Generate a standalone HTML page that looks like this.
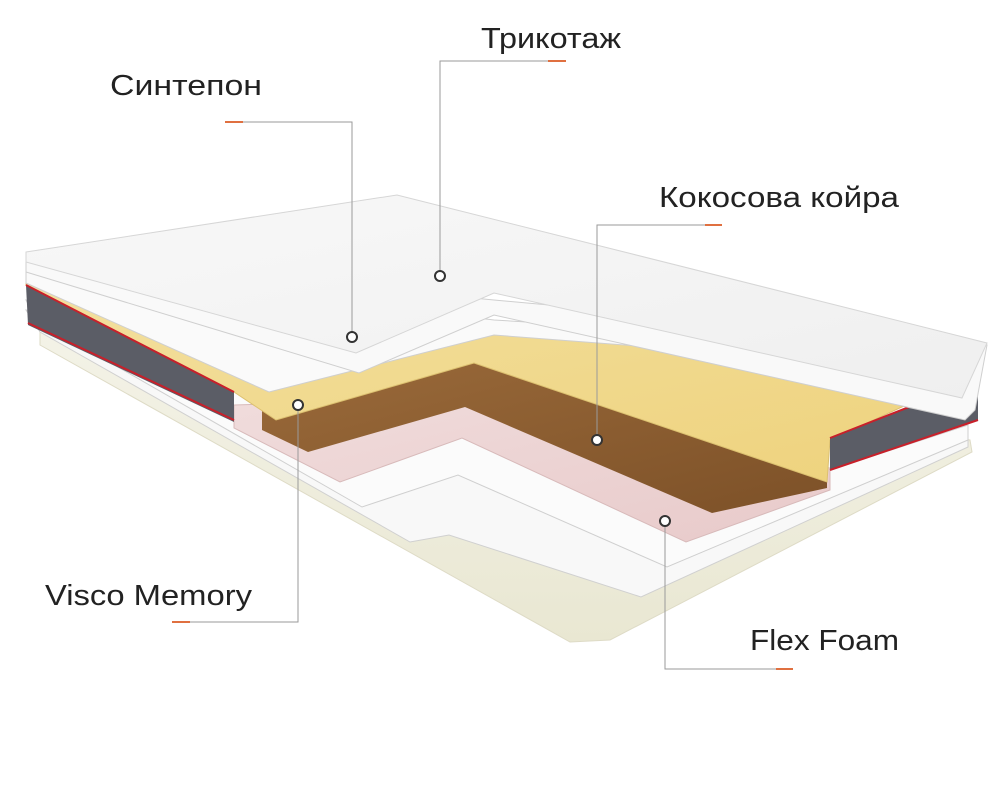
<!DOCTYPE html>
<html><head><meta charset="utf-8"><style>
html,body{margin:0;padding:0;background:#fff;}
svg{display:block}
text{font-family:"Liberation Sans",sans-serif;font-size:29px;fill:#222;}
</style></head><body>
<svg width="1000" height="800" viewBox="0 0 1000 800" xmlns="http://www.w3.org/2000/svg">
<defs>
<linearGradient id="cr" x1="0" y1="0" x2="0" y2="1"><stop offset="0" stop-color="#f4f3e8"/><stop offset="1" stop-color="#e9e7d2"/></linearGradient>
<linearGradient id="ye" x1="0" y1="0" x2="1" y2="1"><stop offset="0" stop-color="#f3e0a0"/><stop offset="1" stop-color="#eed27c"/></linearGradient>
<linearGradient id="br" x1="0" y1="0" x2="1" y2="1"><stop offset="0" stop-color="#9a6a3a"/><stop offset="1" stop-color="#7d5128"/></linearGradient>
<linearGradient id="pk" x1="0" y1="0" x2="1" y2="1"><stop offset="0" stop-color="#f0dcdc"/><stop offset="1" stop-color="#e8caca"/></linearGradient>
<linearGradient id="qt" x1="0" y1="0" x2="1" y2="1"><stop offset="0" stop-color="#f8f8f8"/><stop offset="1" stop-color="#efefef"/></linearGradient>
</defs>
<polygon points="40,320 970,440 972,452 610,640 570,642 40,345" fill="url(#cr)" stroke="#dedbc6"/>
<polygon points="26,310 968,430 968,447 641,597 449,535 410,542 40,332" fill="#f8f8f8" stroke="#d0d0d0"/>
<polygon points="26,300 830,470 968,425 968,440 667,567 458,475 362,507 36,320" fill="#fbfbfb" stroke="#cfcfcf"/>
<polygon points="234,405 465,398 830,468 830,490 686,542 462,438 340,482 234,428" fill="url(#pk)" stroke="#d8baba"/>
<polygon points="262,410 474,360 827,478 827,488 712,513 465,407 308,452 262,430" fill="url(#br)"/>
<polygon points="26,270 494,328 975,360 978,372 830,440 827,482 474,363 276,420 234,392 26,285" fill="url(#ye)" stroke="#dcc070"/>
<polygon points="26,285 234,392 234,422 28,325" fill="#5b5d66"/>
<line x1="26" y1="285" x2="234" y2="392" stroke="#c8202a" stroke-width="2"/>
<line x1="28" y1="323" x2="234" y2="420" stroke="#c8202a" stroke-width="2"/>
<polygon points="830,438 978,380 978,420 830,470" fill="#5b5d66"/>
<line x1="830" y1="438" x2="978" y2="380" stroke="#c8202a" stroke-width="2"/>
<line x1="830" y1="470" x2="978" y2="420" stroke="#c8202a" stroke-width="2"/>
<polygon points="26,262 494,320 985,350 975,372 494,335 269,392 26,283" fill="#fafafa" stroke="#cfcfcf"/>
<polygon points="26,255 494,300 987,345 975,410 965,420 494,315 359,373 26,272" fill="#f9f9f9" stroke="#cfcfcf"/>
<polygon points="26,252 397,195 987,343 962,398 494,293 356,353 26,262" fill="url(#qt)" stroke="#d6d6d6"/>
<g stroke="#9a9a9a" stroke-width="1" fill="none">
<polyline points="566,61 440,61 440,276"/>
<polyline points="225,122 352,122 352,337"/>
<polyline points="722,225 597,225 597,440"/>
<polyline points="172,622 298,622 298,405"/>
<polyline points="793,669 665,669 665,521"/>
</g>
<g stroke="#e07040" stroke-width="2">
<line x1="548" y1="61" x2="566" y2="61"/>
<line x1="225" y1="122" x2="243" y2="122"/>
<line x1="705" y1="225" x2="722" y2="225"/>
<line x1="172" y1="622" x2="190" y2="622"/>
<line x1="776" y1="669" x2="793" y2="669"/>
</g>
<g fill="#fff" stroke="#333" stroke-width="2">
<circle cx="440" cy="276" r="5"/>
<circle cx="352" cy="337" r="5"/>
<circle cx="597" cy="440" r="5"/>
<circle cx="298" cy="405" r="5"/>
<circle cx="665" cy="521" r="5"/>
</g>
<text x="481" y="48" textLength="140" lengthAdjust="spacingAndGlyphs">Трикотаж</text>
<text x="110" y="95" textLength="152" lengthAdjust="spacingAndGlyphs">Синтепон</text>
<text x="659" y="207" textLength="240" lengthAdjust="spacingAndGlyphs">Кокосова койра</text>
<text x="45" y="605" textLength="207" lengthAdjust="spacingAndGlyphs">Visco Memory</text>
<text x="750" y="650" textLength="149" lengthAdjust="spacingAndGlyphs">Flex Foam</text>
</svg>
</body></html>
